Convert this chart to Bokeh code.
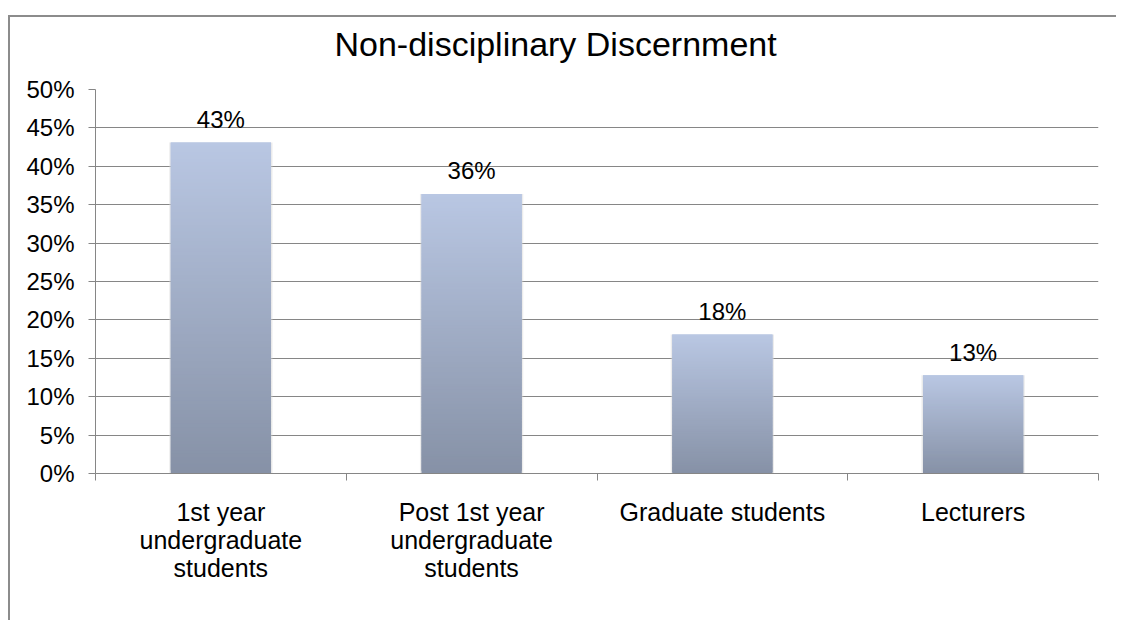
import numpy as np
from bokeh.plotting import figure
from bokeh.models import FixedTicker, NumeralTickFormatter, Range1d, ColumnDataSource, Title, LinearAxis
from bokeh.embed import file_html
from bokeh.resources import INLINE
from bokeh.core.properties import value

# ---- data ----
chart_title = "Non-disciplinary Discernment"
categories = [
    "1st year\nundergraduate\nstudents",
    "Post 1st year\nundergraduate\nstudents",
    "Graduate students",
    "Lecturers",
]
values = [0.431, 0.364, 0.181, 0.128]
y_ticks = [0.0, 0.05, 0.10, 0.15, 0.20, 0.25, 0.30, 0.35, 0.40, 0.45, 0.50]

FONT = "Liberation Sans"
GRAY = "#868686"
TOP_RGB = np.array([185, 199, 227])
BOT_RGB = np.array([134, 145, 166])

p = figure(
    width=1108, height=605,
    x_range=Range1d(0, len(categories)), y_range=Range1d(0, 0.5),
    output_backend="svg", toolbar_location=None, title_location=None,
    min_border_left=85, min_border_right=20, min_border_top=72, min_border_bottom=149,
)
p.margin = (15, 0, 0, 8)
p.styles = {"border-top": "2px solid #8c8c8c", "border-left": "2px solid #8c8c8c"}
p.outline_line_color = None
p.background_fill_color = "white"
p.border_fill_color = "white"

# blank spacer band between title and plot area (one white tick, no label)
spacer = LinearAxis(ticker=FixedTicker(ticks=[len(categories) / 2]),
                    major_tick_out=22, major_tick_in=0,
                    minor_tick_out=0, minor_tick_in=0, axis_line_color=None,
                    major_tick_line_color="white", minor_tick_line_color=None,
                    major_label_standoff=0, major_label_text_font_size="1px",
                    major_label_overrides={len(categories) / 2: ""})
p.add_layout(spacer, "above")

# title (outside the spacer)
p.add_layout(Title(text=chart_title, align="left", offset=239, standoff=10,
                   text_font=FONT, text_font_size="34px", text_font_style="normal",
                   text_color="#000000"), "above")

# soft shadow behind bars
p.vbar(x=[i + 0.5 for i in range(len(values))], top=values, width=0.412,
       fill_color="#d4d4d4", fill_alpha=0.45, line_color=None)

# gradient bars (each bar split into thin overlapping slices of its own height)
N = 100
seg_x, seg_bottom, seg_top, seg_color = [], [], [], []
for i, v in enumerate(values):
    for k in range(N):
        f0 = k / N
        f1 = min(1.0, (k + 2) / N)
        mid = (k + 0.5) / N
        rgb = BOT_RGB + (TOP_RGB - BOT_RGB) * mid
        seg_x.append(i + 0.5)
        seg_bottom.append(v * f0)
        seg_top.append(v * f1)
        seg_color.append("#%02x%02x%02x" % tuple(int(round(c)) for c in rgb))
src = ColumnDataSource(dict(x=seg_x, bottom=seg_bottom, top=seg_top, color=seg_color))
p.vbar(x="x", bottom="bottom", top="top", width=0.4, source=src,
       fill_color="color", line_color=None)

# data labels
lab_src = ColumnDataSource(dict(
    x=[i + 0.5 for i in range(len(values))],
    y=values,
    t=["%d%%" % round(v * 100) for v in values],
))
p.text(x="x", y="y", text="t", source=lab_src, text_align="center",
       text_baseline="alphabetic", y_offset=-23,
       text_font=value(FONT), text_font_size="24px", text_color="#000000")

# y axis
p.yaxis.ticker = FixedTicker(ticks=y_ticks)
p.yaxis.formatter = NumeralTickFormatter(format="0%")
p.yaxis.axis_line_color = GRAY
p.yaxis.major_tick_line_color = GRAY
p.yaxis.major_tick_in = 0
p.yaxis.major_tick_out = 7
p.yaxis.minor_tick_line_color = None
p.yaxis.major_label_standoff = 14
p.yaxis.major_label_text_font = FONT
p.yaxis.major_label_text_font_size = "24px"
p.yaxis.major_label_text_color = "#000000"

# x axis: labels at centres, tick marks at category boundaries
centres = [i + 0.5 for i in range(len(categories))]
bounds = [float(i) for i in range(len(categories) + 1)]
xaxis = p.below[0]
xaxis.ticker = FixedTicker(ticks=centres, minor_ticks=bounds)
xaxis.major_label_overrides = {c: lab for c, lab in zip(centres, categories)}
xaxis.axis_line_color = GRAY
xaxis.major_tick_line_color = None
xaxis.major_tick_in = 0
xaxis.major_tick_out = 0
xaxis.minor_tick_line_color = GRAY
xaxis.minor_tick_in = 0
xaxis.minor_tick_out = 7
xaxis.major_label_standoff = 17
xaxis.major_label_text_font = FONT
xaxis.major_label_text_font_size = "25px"
xaxis.major_label_text_line_height = 1.0
xaxis.major_label_text_color = "#000000"

# grid
p.xgrid.visible = False
p.ygrid.ticker = FixedTicker(ticks=y_ticks[1:-1])
p.ygrid.grid_line_color = GRAY
p.ygrid.grid_line_width = 1

open("out.html", "w").write(file_html(p, INLINE))
